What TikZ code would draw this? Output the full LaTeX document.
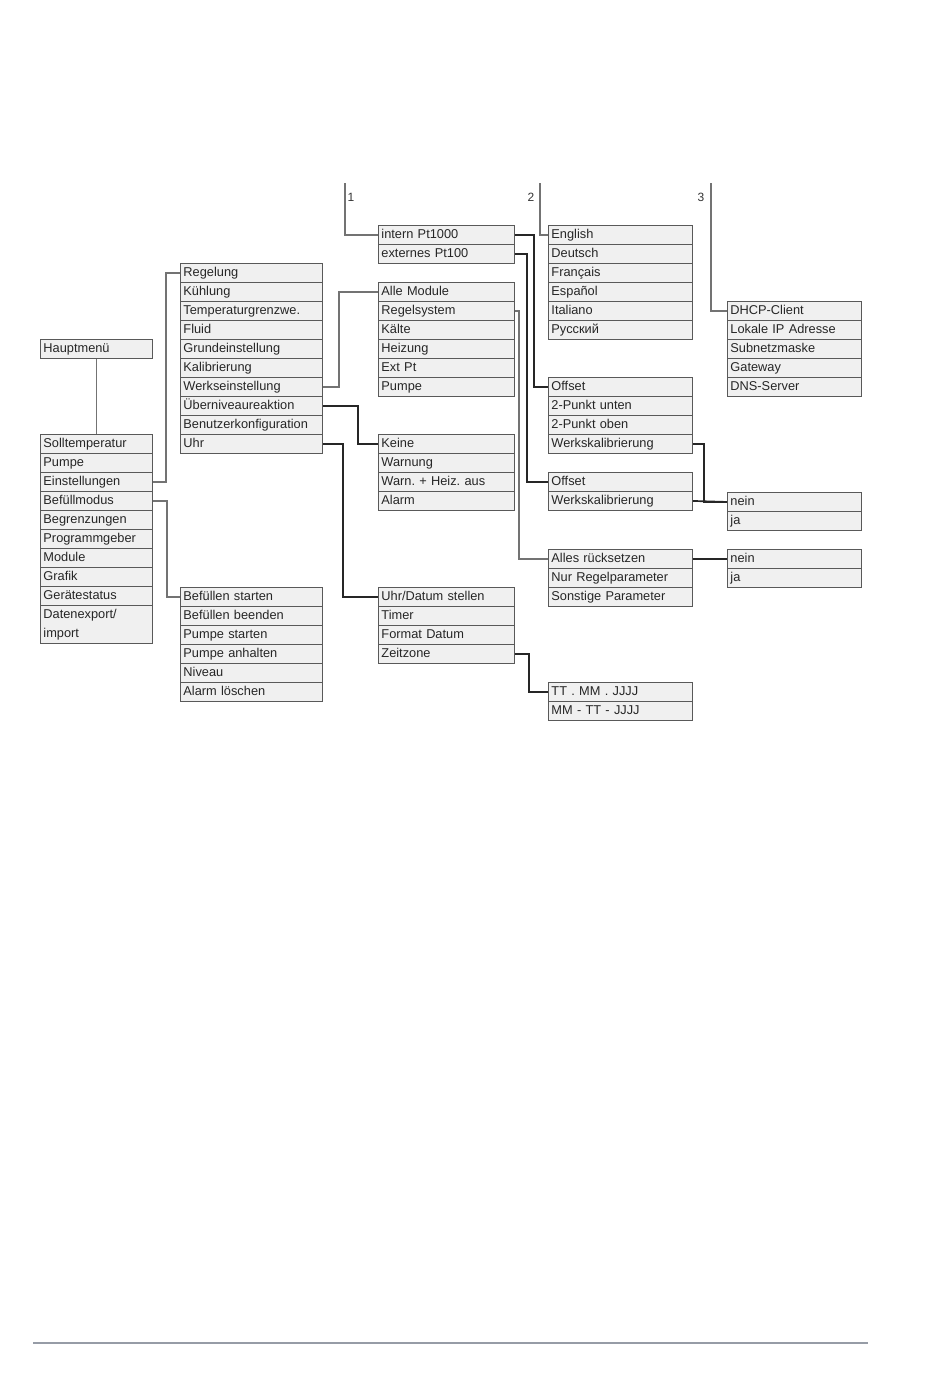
\documentclass[tikz,border=0pt]{standalone}
\usepackage{fontspec}
\setmainfont{Liberation Sans}
\frenchspacing
\definecolor{rulegray}{RGB}{150,156,166}
\newcommand\menulist[5]{%
  \foreach \t [count=\i] in {#5} {
    \node[row=#4] (#1\i) at (#2,{#3+19*(\i-1)}) {\t};
  }}
\begin{document}
\frenchspacing
\begin{tikzpicture}[x=1pt,y=-1pt,
  row/.style={draw=black!65, fill=black!6, line width=0.9pt, anchor=north west, minimum height=19pt,
    inner xsep=3pt, inner ysep=0pt, text width=#1, align=left, text height=9.6pt, text depth=2.8pt,
    font=\fontsize{12.8}{19}\selectfont, text=black!85},
  wire/.style={draw=black!85, line width=1.7pt},
  gwire/.style={draw=black!55, line width=1.6pt},
  tline/.style={draw=black!55, line width=1.1pt},
  lbl/.style={font=\fontsize{12}{14}\selectfont, text=black!80}]
\useasboundingbox (0,0) rectangle (950,1378);

% boxes
\node[row=106pt] (H) at (40,339) {Hauptmenü};
\menulist{M}{40}{434}{106pt}{Solltemperatur,Pumpe,Einstellungen,Befüllmodus,Begrenzungen,Programmgeber,Module,Grafik,Gerätestatus}
\node[row=106pt, minimum height=38pt, text depth=21.8pt] (M10) at (40,605) {Datenexport/\\import};
\menulist{B}{180}{263}{136pt}{Regelung,Kühlung,Temperaturgrenzwe.,Fluid,Grundeinstellung,Kalibrierung,Werkseinstellung,Überniveaureaktion,Benutzerkonfiguration,Uhr}
\menulist{F}{180}{587}{136pt}{Befüllen starten,Befüllen beenden,Pumpe starten,Pumpe anhalten,Niveau,Alarm löschen}
\menulist{P}{378}{225}{130pt}{intern Pt1000,externes Pt100}
\menulist{C}{378}{282}{130pt}{Alle Module,Regelsystem,Kälte,Heizung,Ext Pt,Pumpe}
\menulist{K}{378}{434}{130pt}{Keine,Warnung,Warn. + Heiz. aus,Alarm}
\menulist{U}{378}{587}{130pt}{Uhr/Datum stellen,Timer,Format Datum,Zeitzone}
\menulist{T}{548}{682}{138pt}{TT . MM . JJJJ,MM - TT - JJJJ}
\menulist{L}{548}{225}{138pt}{English,Deutsch,Français,Español,Italiano,Русский}
\menulist{O}{548}{377}{138pt}{Offset,2-Punkt unten,2-Punkt oben,Werkskalibrierung}
\menulist{Q}{548}{472}{138pt}{Offset,Werkskalibrierung}
\menulist{R}{548}{549}{138pt}{Alles rücksetzen,Nur Regelparameter,Sonstige Parameter}
\menulist{D}{727}{301}{128pt}{DHCP-Client,Lokale IP Adresse,Subnetzmaske,Gateway,DNS-Server}
\menulist{N}{727}{492}{128pt}{nein,ja}
\menulist{S}{727}{549}{128pt}{nein,ja}

% connectors
\draw[gwire] (H.south) -- (H.south |- M1.north);
\draw[gwire] (M3.east) -- ++(13,0) |- (B1.west);
\draw[gwire] (M4.east) -- ++(14,0) |- (F1.west);
\draw[gwire] (B7.east) -- ++(16,0) |- (C1.west);
\draw[wire] (B8.east) -- ++(35,0) |- (K1.west);
\draw[wire] (B10.east) -- ++(20,0) |- (U1.west);
\draw[wire] (U4.east) -- ++(14,0) |- (T1.west);
\draw[wire] (P1.east) -- ++(19,0) |- (O1.west);
\draw[wire] (P2.east) -- ++(12,0) |- (Q1.west);
\draw[gwire] (C2.east) -- ++(4,0) |- (R1.west);
\draw[wire] (O4.east) -- ++(11,0) |- (N1.west);
\draw[wire] (Q2.east) -- (N1.west);
\draw[wire] (R1.east) -- (S1.west);

% numbered leads
\coordinate (k1) at (345,183);
\coordinate (k2) at (540,183);
\coordinate (k3) at (711,183);
\draw[tline] (k1) |- (P1.west);
\draw[tline] (k2) |- (L1.west);
\draw[tline] (k3) |- (D1.west);
\node[lbl] (n1) at (351,197) {1};
\node[lbl] (n2) at (531,197) {2};
\node[lbl] (n3) at (701,197) {3};

% footer rule
\coordinate (r1) at (33,1343);
\coordinate (r2) at (868,1343);
\draw[draw=rulegray, line width=1.3pt] (r1) -- (r2);
\end{tikzpicture}
\end{document}
